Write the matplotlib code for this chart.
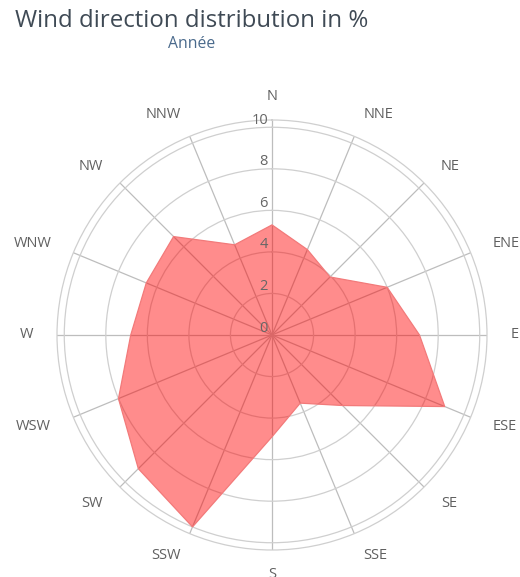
import numpy as np
import matplotlib
matplotlib.use("Agg")
import matplotlib.pyplot as plt
from matplotlib import transforms

# wind direction frequencies (%), clockwise from north
directions = ['N', 'NNE', 'NE', 'ENE', 'E', 'ESE', 'SE', 'SSE',
              'S', 'SSW', 'SW', 'WSW', 'W', 'WNW', 'NW', 'NNW']
freq = [5.3, 4.45, 3.95, 6.0, 7.1, 9.0, 4.8, 3.55,
        4.9, 10.0, 9.1, 8.0, 6.8, 6.55, 6.7, 4.7]
r_ticks = [0, 2, 4, 6, 8, 10]
r_max = 10.35

title = "Wind direction distribution in %"
subtitle = "Année"

plt.rcParams['font.family'] = ['Open Sans', 'DejaVu Sans']

fig = plt.figure(figsize=(5.2, 5.77), dpi=100)
ax = fig.add_axes([57 / 520, 27 / 577, 430 / 520, 430 / 577], projection='polar')
ax.set_theta_zero_location('N')
ax.set_theta_direction(-1)

angles = np.arange(len(directions)) * 360.0 / len(directions)
theta = np.deg2rad(angles)
th = np.append(theta, theta[0])
vals = np.append(freq, freq[0])
ax.fill(th, vals, facecolor=(1, 0, 0, 0.45), edgecolor='#f27a7a', lw=0.9, zorder=3)

ax.set_ylim(0, r_max)
ax.set_yticks(r_ticks)
ax.set_yticklabels([])
ax.set_xticks(theta)
ax.set_xticklabels([])
ax.tick_params(length=0)

ax.grid(True, color='#cfcfcf', lw=0.9)
ax.xaxis.grid(True, color='#bdbdbd', lw=0.9)
ax.spines['polar'].set_color('#cfcfcf')
ax.spines['polar'].set_linewidth(0.9)

# direction labels, highcharts-like alignment (left side right-aligned etc.)
dist = 24
for a, t, name in zip(angles, theta, directions):
    if a % 180 == 0:
        ha = 'center'
    elif a < 180:
        ha = 'left'
    else:
        ha = 'right'
    tr = transforms.offset_copy(ax.transData, fig=fig, units='dots',
                                x=dist * np.sin(t), y=dist * np.cos(t))
    ax.text(t, r_max, name, transform=tr, ha=ha, va='center',
            fontsize=10.5, color='#606060', clip_on=False)

# radial labels along the north spoke
off = transforms.offset_copy(ax.transData, fig=fig, x=-4, y=7, units='dots')
for v in r_ticks:
    ax.text(0, v, str(v), transform=off, ha='right', va='center',
            fontsize=10.5, color='#666666', zorder=4)

fig.text(192 / 520, 1 - 21 / 577, title, ha='center', va='center',
         fontsize=17.3, color='#3f4a55')
fig.text(192 / 520, 1 - 44 / 577, subtitle, ha='center', va='center',
         fontsize=11.3, color='#4a6a8c')

fig.savefig('out.png', dpi=100)
